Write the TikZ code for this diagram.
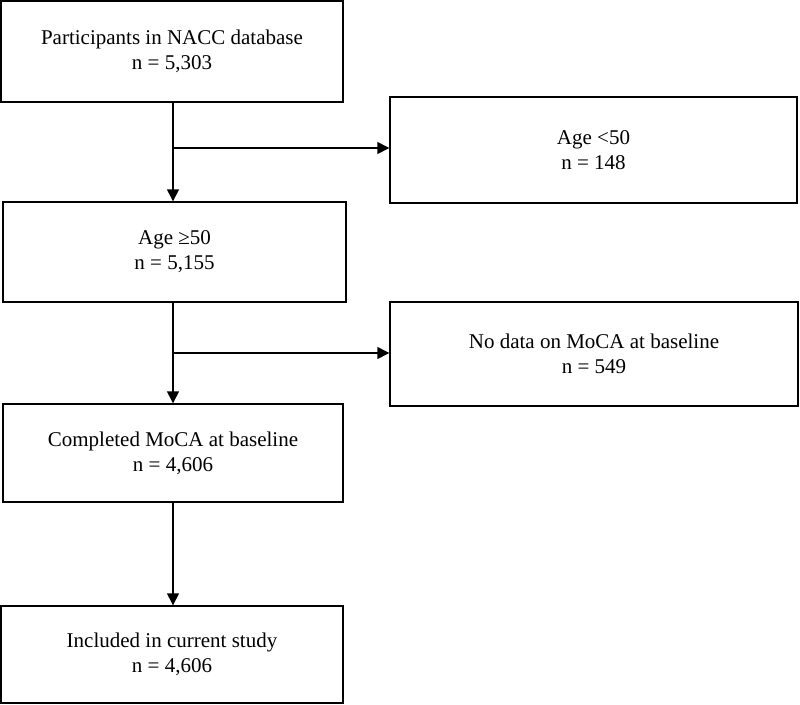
\documentclass[tikz,border=0pt]{standalone}
\usepackage{fontspec}
\setmainfont{Liberation Serif}
\usetikzlibrary{arrows.meta}
\begin{document}
\begin{tikzpicture}[x=1pt,y=-1pt,
  box/.style={draw, line width=1.4pt, align=center, inner sep=0pt, font=\fontsize{21}{25}\selectfont},
  arr/.style={line width=1.4pt, -{Triangle[length=12pt,width=12pt]}}]
\useasboundingbox (0,0) rectangle (800,704);
\node[box, minimum width=342pt, minimum height=101pt] (b1) at (172,51.5) {Participants in NACC database\\n = 5,303};
\node[box, minimum width=407pt, minimum height=106pt] (b2) at (593.5,150) {Age <50\\n = 148};
\node[box, minimum width=343pt, minimum height=100pt] (b3) at (174.5,252) {Age ≥50\\n = 5,155};
\node[box, minimum width=408pt, minimum height=104pt] (b4) at (594,354) {No data on MoCA at baseline\\n = 549};
\node[box, minimum width=340pt, minimum height=98pt] (b5) at (173,453) {Completed MoCA at baseline\\n = 4,606};
\node[box, minimum width=342pt, minimum height=97pt] (b6) at (172,654.5) {Included in current study\\n = 4,606};
\coordinate (v) at (173,0);
\coordinate (j1) at (173,148);
\coordinate (j2) at (173,353);
\draw[arr] (b1.south -| v) -- (b3.north -| v);
\draw[arr] (j1) -- (j1 -| b2.west);
\draw[arr] (b3.south -| v) -- (b5.north -| v);
\draw[arr] (j2) -- (j2 -| b4.west);
\draw[arr] (b5.south -| v) -- (b6.north -| v);
\end{tikzpicture}
\end{document}
